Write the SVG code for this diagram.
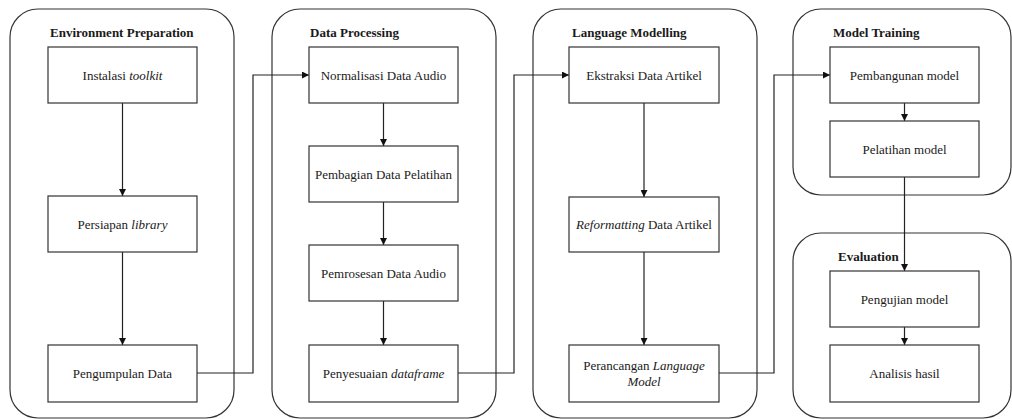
<svg xmlns="http://www.w3.org/2000/svg" width="1012" height="419" viewBox="0 0 1012 419">
  <style>
    .stage { fill: #ffffff; stroke: #333333; stroke-width: 1.2; }
    .box { fill: #ffffff; stroke: #333333; stroke-width: 1.2; }
    .title { font-family: "Liberation Serif", "Times New Roman", serif; font-size: 13px; font-weight: bold; fill: #1a1a1a; }
    .label { font-family: "Liberation Serif", "Times New Roman", serif; font-size: 13px; fill: #1a1a1a; text-anchor: middle; }
    .edge { fill: none; stroke: #222222; stroke-width: 1.2; }
  </style>
  <defs>
    <marker id="arrow" viewBox="0 0 10 10" refX="10" refY="5" markerWidth="7" markerHeight="7" markerUnits="userSpaceOnUse" orient="auto">
      <path d="M0,0 L10,5 L0,10 z" fill="#111111"/>
    </marker>
  </defs>
  <rect width="1012" height="419" fill="#ffffff"/>

  <!-- stage containers -->
  <g id="stage-environment">
    <rect class="stage" x="10" y="9" width="224" height="409" rx="28" ry="28"/>
    <text class="title" x="50" y="37">Environment Preparation</text>
  </g>
  <g id="stage-data">
    <rect class="stage" x="272" y="9" width="224" height="409" rx="28" ry="28"/>
    <text class="title" x="310" y="37">Data Processing</text>
  </g>
  <g id="stage-language">
    <rect class="stage" x="533" y="9" width="224" height="409" rx="28" ry="28"/>
    <text class="title" x="572" y="37">Language Modelling</text>
  </g>
  <g id="stage-training">
    <rect class="stage" x="793" y="9" width="218" height="186" rx="28" ry="28"/>
    <text class="title" x="833" y="37">Model Training</text>
  </g>
  <g id="stage-evaluation">
    <rect class="stage" x="793" y="233" width="218" height="185" rx="28" ry="28"/>
    <text class="title" x="838" y="261">Evaluation</text>
  </g>

  <!-- connectors -->
  <g id="connectors">
    <line class="edge" x1="122.5" y1="103" x2="122.5" y2="196" marker-end="url(#arrow)"/>
    <line class="edge" x1="122.5" y1="252" x2="122.5" y2="345" marker-end="url(#arrow)"/>
    <polyline class="edge" points="197,373 253,373 253,75 309,75" marker-end="url(#arrow)"/>
    <line class="edge" x1="383.5" y1="103" x2="383.5" y2="146" marker-end="url(#arrow)"/>
    <line class="edge" x1="383.5" y1="202" x2="383.5" y2="245" marker-end="url(#arrow)"/>
    <line class="edge" x1="383.5" y1="301" x2="383.5" y2="345" marker-end="url(#arrow)"/>
    <polyline class="edge" points="458,373 514,373 514,75 569,75" marker-end="url(#arrow)"/>
    <line class="edge" x1="644" y1="103" x2="644" y2="197" marker-end="url(#arrow)"/>
    <line class="edge" x1="644" y1="252" x2="644" y2="345" marker-end="url(#arrow)"/>
    <polyline class="edge" points="719,373 774,373 774,75 830,75" marker-end="url(#arrow)"/>
    <line class="edge" x1="904.5" y1="103" x2="904.5" y2="121" marker-end="url(#arrow)"/>
    <line class="edge" x1="904.5" y1="177" x2="904.5" y2="271" marker-end="url(#arrow)"/>
    <line class="edge" x1="904.5" y1="327" x2="904.5" y2="345" marker-end="url(#arrow)"/>
  </g>

  <!-- process steps -->
  <g id="instalasi-toolkit">
    <rect class="box" x="48" y="47" width="149" height="56"/>
    <text class="label" x="122.5" y="79.5">Instalasi <tspan font-style="italic">toolkit</tspan></text>
  </g>
  <g id="persiapan-library">
    <rect class="box" x="48" y="196" width="149" height="56"/>
    <text class="label" x="122.5" y="228.5">Persiapan <tspan font-style="italic">library</tspan></text>
  </g>
  <g id="pengumpulan-data">
    <rect class="box" x="48" y="345" width="149" height="57"/>
    <text class="label" x="122.5" y="378">Pengumpulan Data</text>
  </g>

  <g id="normalisasi-data-audio">
    <rect class="box" x="309" y="47" width="149" height="56"/>
    <text class="label" x="383.5" y="79.5">Normalisasi Data Audio</text>
  </g>
  <g id="pembagian-data-pelatihan">
    <rect class="box" x="309" y="146" width="149" height="56"/>
    <text class="label" x="383.5" y="178.5">Pembagian Data Pelatihan</text>
  </g>
  <g id="pemrosesan-data-audio">
    <rect class="box" x="309" y="245" width="149" height="56"/>
    <text class="label" x="383.5" y="277.5">Pemrosesan Data Audio</text>
  </g>
  <g id="penyesuaian-dataframe">
    <rect class="box" x="309" y="345" width="149" height="57"/>
    <text class="label" x="383.5" y="378">Penyesuaian <tspan font-style="italic">dataframe</tspan></text>
  </g>

  <g id="ekstraksi-data-artikel">
    <rect class="box" x="569" y="47" width="150" height="56"/>
    <text class="label" x="644" y="79.5">Ekstraksi Data Artikel</text>
  </g>
  <g id="reformatting-data-artikel">
    <rect class="box" x="569" y="197" width="150" height="55"/>
    <text class="label" x="644" y="229"><tspan font-style="italic">Reformatting</tspan> Data Artikel</text>
  </g>
  <g id="perancangan-language-model">
    <rect class="box" x="569" y="345" width="150" height="57"/>
    <text class="label" x="644" y="370">Perancangan <tspan font-style="italic">Language</tspan></text>
    <text class="label" x="644" y="386" font-style="italic">Model</text>
  </g>

  <g id="pembangunan-model">
    <rect class="box" x="830" y="47" width="149" height="56"/>
    <text class="label" x="904.5" y="79.5">Pembangunan model</text>
  </g>
  <g id="pelatihan-model">
    <rect class="box" x="830" y="121" width="149" height="56"/>
    <text class="label" x="904.5" y="153.5">Pelatihan model</text>
  </g>

  <g id="pengujian-model">
    <rect class="box" x="830" y="271" width="149" height="56"/>
    <text class="label" x="904.5" y="303.5">Pengujian model</text>
  </g>
  <g id="analisis-hasil">
    <rect class="box" x="830" y="345" width="149" height="57"/>
    <text class="label" x="904.5" y="378">Analisis hasil</text>
  </g>
</svg>
